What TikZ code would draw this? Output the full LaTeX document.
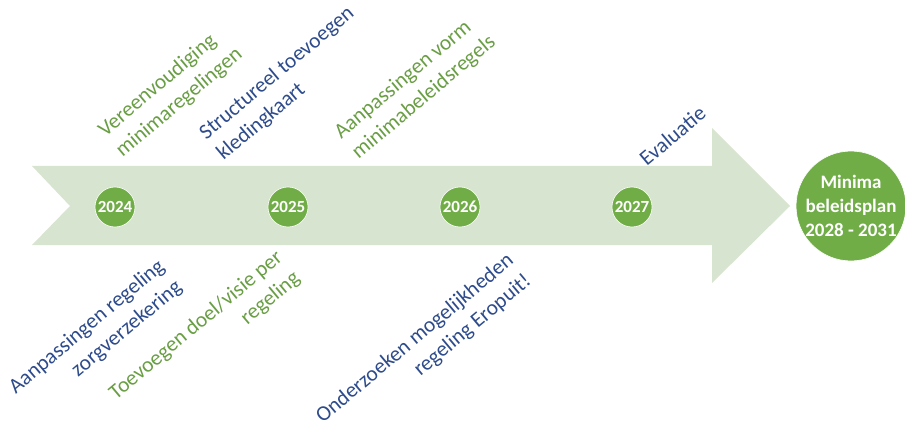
\documentclass[tikz,border=0pt]{standalone}
\usepackage{fontspec}
\setmainfont{Carlito}
\definecolor{arrowgreen}{HTML}{D7E4CF}
\definecolor{dotgreen}{HTML}{70AD47}
\definecolor{txtgreen}{HTML}{6A9E45}
\definecolor{txtblue}{HTML}{2E4C8C}
\tikzstyle{year}=[shape=circle,fill=dotgreen,draw=white,line width=0.6pt,minimum size=40pt,inner sep=0pt,text=white,font=\fontsize{17}{20}\selectfont\bfseries]
\tikzstyle{toplabel}=[rotate=40,anchor=south west,align=left,inner sep=0pt,font=\fontsize{21.5}{27}\selectfont]
\tikzstyle{botlabel}=[rotate=40,anchor=north east,align=right,inner sep=0pt,font=\fontsize{21.5}{27}\selectfont]

\begin{document}
\begin{tikzpicture}[x=1pt, y=-1pt]
	\useasboundingbox (0,0) rectangle (905,425);
	\fill[arrowgreen] (32,166) -- (712,166) -- (712,128) -- (790,206) -- (712,283) -- (712,245) -- (32,245) -- (70,206) -- cycle;
	\foreach \name/\pos in {{2024/115}, {2025/288}, {2026/460}, {2027/632}}
	\node[year] (y\name) at (\pos,207) {\name};
	\node[year, minimum size=106pt, font=\fontsize{19}{24}\selectfont\bfseries, align=center] (plan) at (851,206) {Minima\\beleidsplan\\2028 - 2031};
	% boven de pijl
	\node[toplabel, text=txtgreen] (vereenv) at (125,161) {Vereenvoudiging\\minimaregelingen};
	\node[toplabel, text=txtblue] (kleding) at (226,164) {Structureel toevoegen\\kledingkaart};
	\node[toplabel, text=txtgreen] (vorm) at (361,163) {Aanpassingen vorm\\minimabeleidsregels};
	\node[toplabel, text=txtblue] (eval) at (647,167) {Evaluatie};
	% onder de pijl
	\node[botlabel, text=txtblue] (zorg) at (156,257) {Aanpassingen regeling\\zorgverzekering};
	\node[botlabel, text=txtgreen] (doel) at (274,248) {Toevoegen doel/visie per\\regeling};
	\node[botlabel, text=txtblue] (eropuit) at (505,251) {Onderzoeken mogelijkheden\\regeling Eropuit!};
\end{tikzpicture}
\end{document}
